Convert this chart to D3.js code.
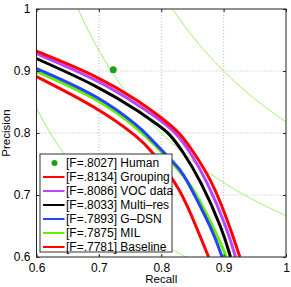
<!DOCTYPE html>
<meta charset="utf-8">
<style>
 body { margin: 0; background: #fff; }
 text { font-family: "Liberation Sans", Arial, sans-serif; }
 .grid line { stroke: #bbb; stroke-dasharray: 1,2; }
 .curve { fill: none; stroke-width: 3px; }
 .iso { fill: none; stroke: #99f066; stroke-width: 1px; }
</style>
<body>
<script src="https://d3js.org/d3.v7.min.js"></script>
<script>

// tick values
var xTicks = [0.6, 0.7, 0.8, 0.9, 1];
var yTicks = [0.6, 0.7, 0.8, 0.9, 1];
var tickLabels = ["0.6", "0.7", "0.8", "0.9", "1"];

// iso-F reference contours
var isoF = [0.7, 0.8, 0.9];

// human point
var human = {r: 0.723, p: 0.902, label: "[F=.8027] Human"};

// curve names, colours
var names = ["[F=.8134] Grouping", "[F=.8086] VOC data", "[F=.8033] Multi\u2013res",
             "[F=.7893] G\u2013DSN", "[F=.7875] MIL", "[F=.7781] Baseline"];
var colors = ["#ff0000", "#bb44ff", "#000000", "#2244ff", "#66ee00", "#ff0000"];

// recall / precision
var grouping = [[0.6,0.932],[0.7,0.891],[0.766,0.8505],[0.8,0.825],[0.8305,0.8],[0.849,0.773],[0.8815,0.724],[0.912,0.6435],[0.926,0.6]];
var vocdata  = [[0.6,0.928],[0.7,0.885],[0.766,0.8435],[0.8,0.820],[0.824,0.8],[0.844,0.773],[0.873,0.724],[0.9065,0.6435],[0.919,0.6]];
var multires = [[0.6,0.920],[0.7,0.875],[0.766,0.834],[0.8,0.809],[0.812,0.8],[0.833,0.773],[0.863,0.724],[0.8985,0.6435],[0.911,0.6]];
var gdsn     = [[0.6,0.904],[0.7,0.860],[0.766,0.809],[0.777,0.797],[0.8,0.773],[0.831,0.741],[0.841,0.724],[0.8824,0.6435],[0.8975,0.6]];
var mil      = [[0.6,0.899],[0.7,0.855],[0.766,0.805],[0.8,0.770],[0.8455,0.724],[0.886,0.6435],[0.9045,0.6]];
var baseline = [[0.6,0.891],[0.7,0.840],[0.766,0.791],[0.783,0.773],[0.831,0.711],[0.858,0.6435],[0.876,0.6]];
var series = [grouping, vocdata, multires, gdsn, mil, baseline];

var margin = {top: 9, right: 5, bottom: 30, left: 36.5},
    width = 291 - margin.left - margin.right,
    height = 287 - margin.top - margin.bottom;

var x = d3.scaleLinear().domain([0.6, 1]).range([0, width]);
var y = d3.scaleLinear().domain([0.6, 1]).range([height, 0]);

var svg = d3.select("body").append("svg")
    .attr("width", 291)
    .attr("height", 287)
  .append("g")
    .attr("transform", "translate(" + margin.left + "," + margin.top + ")");

svg.append("defs").append("clipPath").attr("id", "clip")
  .append("rect").attr("width", width).attr("height", height);

// grid
var grid = svg.append("g").attr("class", "grid");
grid.selectAll(".gx").data([0.7, 0.8, 0.9]).enter().append("line")
    .attr("x1", d => x(d)).attr("x2", d => x(d))
    .attr("y1", 0).attr("y2", height);
grid.selectAll(".gy").data([0.7, 0.8, 0.9]).enter().append("line")
    .attr("y1", d => y(d)).attr("y2", d => y(d))
    .attr("x1", 0).attr("x2", width);

var plot = svg.append("g").attr("clip-path", "url(#clip)");

// iso-F contours
var isoLine = d3.line().x(d => x(d[0])).y(d => y(d[1]));
isoF.forEach(function(f) {
  var pts = d3.range(f / 2 + 0.001, 1.0001, 0.002)
      .map(r => [r, f * r / (2 * r - f)])
      .filter(d => d[1] <= 1.2);
  plot.append("path").attr("class", "iso").attr("d", isoLine(pts));
});

// PR curves (drawn bottom-up)
var line = d3.line()
    .x(d => x(d[0]))
    .y(d => y(d[1]))
    .curve(d3.curveBasis);

for (var i = series.length - 1; i >= 0; i--) {
  plot.append("path")
      .attr("class", "curve")
      .style("stroke", colors[i])
      .attr("d", line(series[i]));
}

// human
svg.append("circle")
    .attr("cx", x(human.r)).attr("cy", y(human.p)).attr("r", 3.5)
    .style("fill", "#1aa01a");

// axes box
svg.append("rect").attr("width", width).attr("height", height)
    .style("fill", "none").style("stroke", "#222").style("stroke-width", 1);

svg.append("g")
    .attr("transform", "translate(0," + height + ")")
    .call(d3.axisBottom(x).tickValues(xTicks).tickSize(-3).tickPadding(6)
          .tickFormat((d, i) => tickLabels[i]))
    .call(g => g.select(".domain").remove())
    .selectAll("text").style("font-size", "12px").style("fill", "#000");

svg.append("g")
    .call(d3.axisLeft(y).tickValues(yTicks).tickSize(-3).tickPadding(6)
          .tickFormat((d, i) => tickLabels[i]))
    .call(g => g.select(".domain").remove())
    .selectAll("text").style("font-size", "12px").style("fill", "#000");

svg.append("g")
    .attr("transform", "translate(" + width + ",0)")
    .call(d3.axisRight(y).tickValues(yTicks).tickSize(-3).tickFormat(""))
    .call(g => g.select(".domain").remove());
svg.append("g")
    .call(d3.axisTop(x).tickValues(xTicks).tickSize(-3).tickFormat(""))
    .call(g => g.select(".domain").remove());

svg.selectAll(".tick line").style("stroke", "#222");

// axis titles
svg.append("text")
    .attr("x", width / 2).attr("y", height + 26)
    .attr("text-anchor", "middle").style("font-size", "11.5px")
    .text("Recall");
svg.append("text")
    .attr("transform", "translate(" + (-27) + "," + (height / 2) + ") rotate(-90)")
    .attr("text-anchor", "middle").style("font-size", "11.5px")
    .text("Precision");

// legend
var lg = svg.append("g").attr("transform", "translate(" + (40 - margin.left) + "," + (154 - margin.top) + ")");
lg.append("rect").attr("width", 132).attr("height", 98)
    .style("fill", "#fff").style("stroke", "#333").style("stroke-width", 1);

var rowY = function(i) { return 9 + i * 14; };

lg.append("circle").attr("cx", 14.5).attr("cy", rowY(0)).attr("r", 3)
    .style("fill", "#1aa01a");
lg.append("text").attr("x", 26).attr("y", rowY(0)).attr("dy", "0.35em")
    .style("font-size", "12px").text(human.label);

names.forEach(function(n, i) {
  lg.append("line")
      .attr("x1", 3).attr("x2", 24.5)
      .attr("y1", rowY(i + 1)).attr("y2", rowY(i + 1))
      .style("stroke", colors[i]).style("stroke-width", 2);
  lg.append("text").attr("x", 26).attr("y", rowY(i + 1)).attr("dy", "0.35em")
      .style("font-size", "12px").text(n);
});

</script>
</body>
